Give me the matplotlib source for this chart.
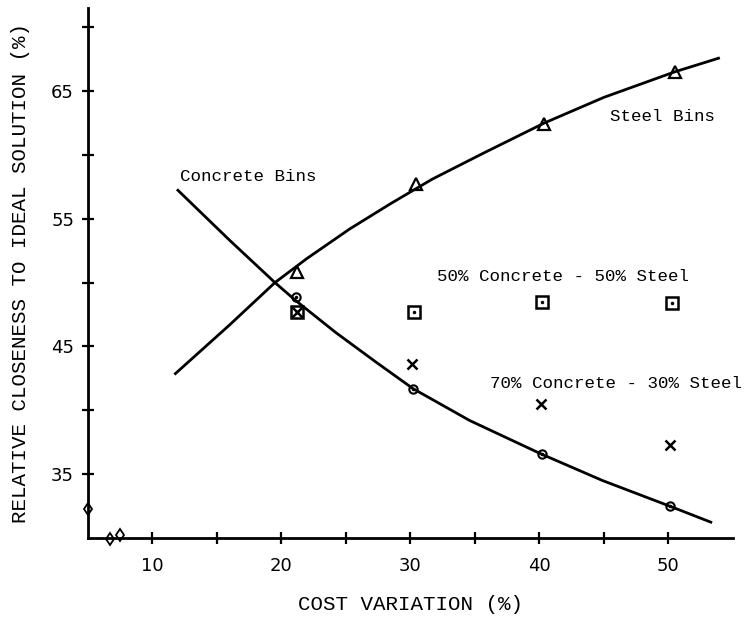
import matplotlib
matplotlib.use("Agg")
import matplotlib.pyplot as plt

# measured points
cost_steel = [21.2, 30.4, 40.4, 50.5]
steel_bins = [50.8, 57.7, 62.4, 66.5]

cost_concrete = [21.1, 30.2, 40.2, 50.1]
concrete_bins = [48.9, 41.7, 36.6, 32.5]

cost_mix50 = [21.2, 30.3, 40.2, 50.3]
mix_50_50 = [47.7, 47.7, 48.5, 48.4]

cost_mix70 = [21.2, 30.1, 40.1, 50.1]
mix_70_30 = [47.7, 43.6, 40.5, 37.3]

# hand-drawn trend curves
steel_curve_x = [11.7, 16.0, 19.5, 22.0, 25.3, 28.5, 31.7, 35.6, 40.4, 45.0, 50.5, 54.0]
steel_curve_y = [42.8, 46.7, 50.0, 51.9, 54.2, 56.2, 58.1, 60.1, 62.5, 64.5, 66.5, 67.6]
concrete_curve_x = [11.9, 16.0, 19.5, 21.1, 24.2, 27.3, 30.2, 34.6, 40.1, 44.9, 50.1, 53.4]
concrete_curve_y = [57.3, 53.3, 50.0, 48.6, 46.1, 43.8, 41.7, 39.2, 36.6, 34.5, 32.5, 31.2]

x_major = [10, 20, 30, 40, 50]
x_minor = [15, 25, 35, 45]
y_major = [35, 45, 55, 65]
y_minor = [40, 50, 60, 70]

mono = "Liberation Mono"

fig = plt.figure(figsize=(7.48, 6.25), dpi=100)
ax = fig.add_axes([0.1176, 0.1392, 0.862, 0.848])

ax.plot(steel_curve_x, steel_curve_y, color="black", lw=2.0,
        solid_capstyle="butt", solid_joinstyle="round")
ax.plot(concrete_curve_x, concrete_curve_y, color="black", lw=2.0,
        solid_capstyle="butt", solid_joinstyle="round")

ax.plot(cost_steel, steel_bins, ls="none", marker="^", ms=9, mfc="none",
        mec="black", mew=1.6)
ax.plot(cost_concrete, concrete_bins, ls="none", marker="o", ms=6, mfc="none",
        mec="black", mew=1.5)
ax.plot(cost_concrete, concrete_bins, ls="none", marker=".", ms=3, color="black")
ax.plot(cost_mix50, mix_50_50, ls="none", marker="s", ms=8, mfc="none",
        mec="black", mew=1.8)
ax.plot(cost_mix50, mix_50_50, ls="none", marker=".", ms=3, color="black")
ax.plot(cost_mix70, mix_70_30, ls="none", marker="x", ms=7, color="black", mew=1.8)

# stray marks sitting on the axes near the origin
ax.plot([5.0, 6.7, 7.5], [32.3, 29.9, 30.2], ls="none", marker="d", ms=6,
        mfc="none", mec="black", mew=1.3, clip_on=False)

ax.text(12.1, 58.3, "Concrete Bins", family=mono, fontsize=12.6, va="center")
ax.text(45.5, 63.0, "Steel Bins", family=mono, fontsize=12.6, va="center")
ax.text(32.1, 50.5, "50% Concrete - 50% Steel", family=mono, fontsize=12.6,
        va="center")
ax.text(36.2, 42.1, "70% Concrete - 30% Steel", family=mono, fontsize=12.6,
        va="center")

ax.set_xlim(5, 55)
ax.set_ylim(30, 71.5)
ax.set_xticks(x_major)
ax.set_xticks(x_minor, minor=True)
ax.set_yticks(y_major)
ax.set_yticks(y_minor, minor=True)
ax.set_xticklabels([str(v) for v in x_major], family="DejaVu Sans", fontsize=13)
ax.set_yticklabels([str(v) for v in y_major], family="DejaVu Sans", fontsize=13)
ax.tick_params(which="both", direction="inout", length=8, width=1.6, color="black")
ax.tick_params(axis="x", pad=10)
ax.tick_params(axis="y", pad=6)

for side in ["top", "right"]:
    ax.spines[side].set_visible(False)
for side in ["left", "bottom"]:
    ax.spines[side].set_linewidth(2.0)

ax.set_xlabel("COST VARIATION (%)", family=mono, fontsize=15, labelpad=14)
ax.set_ylabel("RELATIVE CLOSENESS TO IDEAL SOLUTION (%)", family=mono,
              fontsize=15, labelpad=15)

fig.savefig("out.png", dpi=100)
